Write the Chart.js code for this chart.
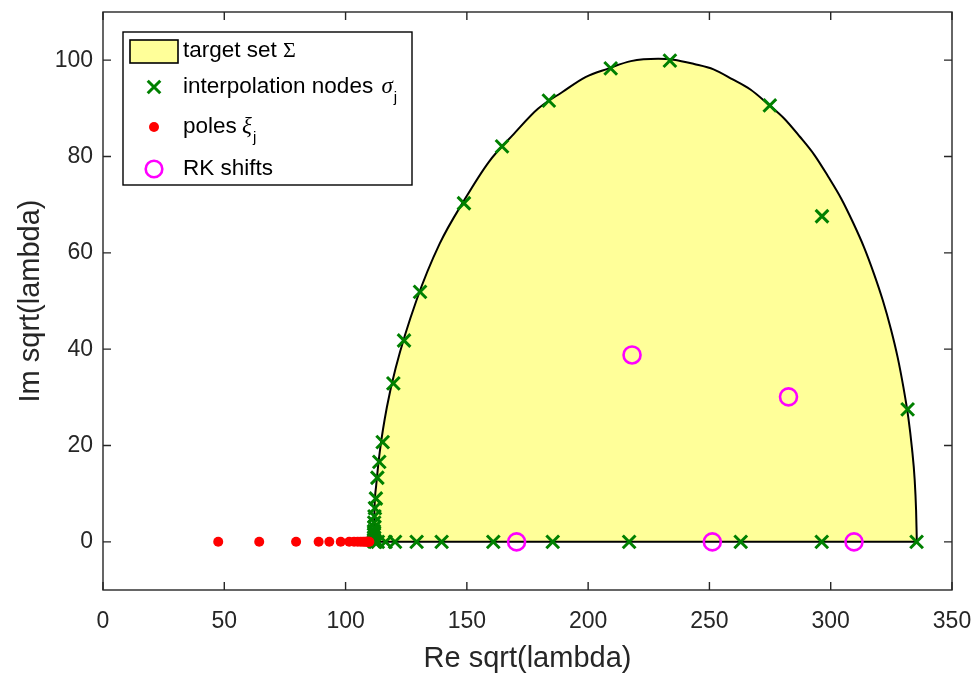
<!DOCTYPE html>
<html>
<head>
<meta charset="utf-8">
<script src="https://cdn.jsdelivr.net/npm/chart.js@4.4.1/dist/chart.umd.min.js"></script>
<style>
html,body{margin:0;padding:0;background:#fff;}
#wrap{width:978px;height:673px;position:relative;}
</style>
</head>
<body>
<div id="wrap"><canvas id="c" width="978" height="673"></canvas></div>
<script>
// ---- data ----
const xTicks = [0, 50, 100, 150, 200, 250, 300, 350];
const yTicks = [0, 20, 40, 60, 80, 100];

// upper boundary of the target set (Re, Im of sqrt(lambda))
const boundaryRe = [111.7, 111.8, 112.0, 112.6, 114.2, 117.0, 120.6, 129.2, 138.8, 149.0, 159.1, 169.4, 179.3, 189.4, 198.9, 208.5, 217.6, 228.9, 235.2, 243.7, 251.7, 259.6, 266.9, 274.1, 280.8, 287.3, 293.3, 299.0, 304.3, 309.2, 313.7, 317.8, 321.5, 324.8, 327.6, 330.0, 332.0, 333.5, 334.6, 335.2, 335.5];
const boundaryIm = [0.0, 3.9, 7.9, 11.6, 19.1, 27.9, 36.0, 50.1, 61.9, 71.0, 78.9, 84.7, 89.9, 93.4, 96.5, 98.3, 99.8, 100.3, 100.1, 99.2, 98.1, 96.0, 93.9, 90.9, 87.9, 84.1, 80.3, 75.8, 71.3, 66.3, 61.2, 55.7, 50.1, 44.2, 38.3, 32.0, 25.8, 19.4, 13.0, 6.5, 0.0];

// interpolation nodes sigma_j
const nodesRe = [233.7, 209.3, 183.8, 164.5, 148.8, 130.7, 124.1, 119.7, 115.3, 113.9, 113.1, 112.5, 112.1, 111.9, 111.8, 111.8, 111.7, 111.7, 111.7, 111.7, 111.7, 274.9, 296.4, 331.7,
                 112.3, 113.3, 116.5, 120.4, 129.3, 139.6, 160.9, 185.4, 216.9, 262.9, 296.3, 335.4];
const nodesIm = [99.9, 98.3, 91.6, 82.1, 70.3, 51.9, 41.8, 32.9, 20.7, 16.6, 13.3, 9.0, 7.0, 5.3, 4.0, 3.0, 2.2, 1.5, 0.9, 0.4, 0.1, 90.6, 67.6, 27.5,
                 0, 0, 0, 0, 0, 0, 0, 0, 0, 0, 0, 0];

// poles xi_j
const polesRe = [47.5, 64.4, 79.6, 88.9, 93.3, 98.0, 101.5, 103.5, 105.0, 106.2, 107.2, 108.0, 108.6, 109.1, 109.5, 109.8];
const polesIm = [0, 0, 0, 0, 0, 0, 0, 0, 0, 0, 0, 0, 0, 0, 0, 0];

// RK shifts
const rkRe = [218.1, 282.6, 170.5, 251.2, 309.6];
const rkIm = [38.8, 30.1, 0, 0, 0];

const zip = (a, b) => a.map((v, i) => ({x: v, y: b[i]}));

const YELLOW = 'rgb(255,255,153)';
const GREEN = 'rgb(0,128,0)';
const RED = 'rgb(255,0,0)';
const MAGENTA = 'rgb(255,0,255)';
const AXIS = '#262626';
const SANS = '"Liberation Sans", Arial, Helvetica, sans-serif';
const SERIF = '"Liberation Serif", "DejaVu Serif", "Times New Roman", serif';

const boxPlugin = {
  id: 'boxPlugin',
  afterDatasetsDraw(chart) {
    const ctx = chart.ctx, a = chart.chartArea;
    const xs = chart.scales.x, ys = chart.scales.y;
    ctx.save();
    ctx.strokeStyle = AXIS;
    ctx.lineWidth = 1.4;
    ctx.strokeRect(a.left, a.top, a.right - a.left, a.bottom - a.top);
    const tl = 8;
    ctx.beginPath();
    xTicks.forEach(v => {
      const px = xs.getPixelForValue(v);
      ctx.moveTo(px, a.bottom); ctx.lineTo(px, a.bottom - tl);
      ctx.moveTo(px, a.top); ctx.lineTo(px, a.top + tl);
    });
    yTicks.forEach(v => {
      const py = ys.getPixelForValue(v);
      ctx.moveTo(a.left, py); ctx.lineTo(a.left + tl, py);
      ctx.moveTo(a.right, py); ctx.lineTo(a.right - tl, py);
    });
    ctx.stroke();
    ctx.restore();
  },
  afterDraw(chart) {
    const ctx = chart.ctx, a = chart.chartArea;
    const L = a.left + 20, T = a.top + 20, W = 289, H = 153;
    ctx.save();
    ctx.fillStyle = '#fff';
    ctx.fillRect(L, T, W, H);
    ctx.strokeStyle = '#000';
    ctx.lineWidth = 1.4;
    ctx.strokeRect(L, T, W, H);
    const mx = L + 31, tx = L + 60;
    const rows = [T + 19, T + 55, T + 95, T + 137];
    ctx.textBaseline = 'middle';
    ctx.textAlign = 'left';
    const mainFont = '22.5px ' + SANS;
    // row 1: target set
    ctx.fillStyle = YELLOW;
    ctx.fillRect(L + 7, rows[0] - 11, 48, 23);
    ctx.strokeStyle = '#000'; ctx.lineWidth = 1.6;
    ctx.strokeRect(L + 7, rows[0] - 11, 48, 23);
    ctx.fillStyle = '#000';
    ctx.font = mainFont;
    let t = 'target set ';
    ctx.fillText(t, tx, rows[0]);
    let w = ctx.measureText(t).width;
    ctx.font = '22px ' + SERIF;
    ctx.fillText('\u03A3', tx + w, rows[0]);
    // row 2: nodes
    ctx.strokeStyle = GREEN; ctx.lineWidth = 3;
    const r = 6.3;
    ctx.beginPath();
    ctx.moveTo(mx - r, rows[1] - r); ctx.lineTo(mx + r, rows[1] + r);
    ctx.moveTo(mx - r, rows[1] + r); ctx.lineTo(mx + r, rows[1] - r);
    ctx.stroke();
    ctx.fillStyle = '#000';
    ctx.font = mainFont;
    t = 'interpolation nodes ';
    ctx.fillText(t, tx, rows[1]);
    w = ctx.measureText(t).width;
    ctx.font = 'italic 23px ' + SERIF;
    ctx.fillText('\u03C3', tx + w + 2, rows[1]);
    let w2 = ctx.measureText('\u03C3').width;
    ctx.font = '15px ' + SANS;
    ctx.fillText('j', tx + w + w2 + 3, rows[1] + 11);
    // row 3: poles
    ctx.fillStyle = RED;
    ctx.beginPath(); ctx.arc(mx, rows[2], 5, 0, Math.PI * 2); ctx.fill();
    ctx.fillStyle = '#000';
    ctx.font = mainFont;
    t = 'poles ';
    ctx.fillText(t, tx, rows[2]);
    w = ctx.measureText(t).width;
    ctx.font = 'italic 23px ' + SERIF;
    ctx.fillText('\u03BE', tx + w - 1, rows[2]);
    w2 = ctx.measureText('\u03BE').width;
    ctx.font = '15px ' + SANS;
    ctx.fillText('j', tx + w + w2, rows[2] + 11);
    // row 4: RK shifts
    ctx.strokeStyle = MAGENTA; ctx.lineWidth = 2.6;
    ctx.beginPath(); ctx.arc(mx, rows[3], 8.3, 0, Math.PI * 2); ctx.stroke();
    ctx.fillStyle = '#000';
    ctx.font = mainFont;
    ctx.fillText('RK shifts', tx, rows[3]);
    ctx.restore();
  }
};

new Chart(document.getElementById('c'), {
  type: 'scatter',
  data: {
    datasets: [
      {
        label: 'target set',
        data: zip(boundaryRe, boundaryIm),
        showLine: true,
        fill: 'origin',
        backgroundColor: YELLOW,
        borderColor: '#000',
        borderWidth: 2,
        pointRadius: 0,
        cubicInterpolationMode: 'monotone',
        order: 5
      },
      {
        label: 'target set base',
        data: [{x: boundaryRe[0], y: 0}, {x: boundaryRe[boundaryRe.length - 1], y: 0}],
        showLine: true,
        fill: false,
        borderColor: '#000',
        borderWidth: 2,
        pointRadius: 0,
        order: 4
      },
      {
        label: 'interpolation nodes',
        data: zip(nodesRe, nodesIm),
        pointStyle: 'crossRot',
        pointRadius: 9,
        borderColor: GREEN,
        backgroundColor: GREEN,
        pointBorderWidth: 3,
        order: 3
      },
      {
        label: 'poles',
        data: zip(polesRe, polesIm),
        pointStyle: 'circle',
        pointRadius: 5,
        borderWidth: 0,
        pointBorderWidth: 0,
        backgroundColor: RED,
        borderColor: RED,
        order: 2
      },
      {
        label: 'RK shifts',
        data: zip(rkRe, rkIm),
        pointStyle: 'circle',
        pointRadius: 8.5,
        pointBorderWidth: 2.6,
        borderColor: MAGENTA,
        backgroundColor: 'rgba(0,0,0,0)',
        order: 1
      }
    ]
  },
  options: {
    responsive: false,
    animation: false,
    events: [],
    layout: { padding: { top: 10, right: 26, left: 0, bottom: 0 } },
    plugins: { legend: { display: false }, tooltip: { enabled: false } },
    scales: {
      x: {
        type: 'linear',
        min: 0, max: 350,
        afterBuildTicks: s => { s.ticks = xTicks.map(v => ({value: v})); },
        afterFit: s => { s.height = 83; s.paddingLeft = 0; s.paddingRight = 0; },
        grid: { display: false },
        border: { display: false },
        ticks: { color: AXIS, font: { family: SANS, size: 23 }, padding: 10, maxRotation: 0, autoSkip: false },
        title: { display: true, text: 'Re sqrt(lambda)', color: AXIS, font: { family: SANS, size: 29 }, padding: { top: 0, bottom: -3 } }
      },
      y: {
        type: 'linear',
        min: -10, max: 110,
        afterBuildTicks: s => { s.ticks = yTicks.map(v => ({value: v})); },
        afterFit: s => { s.width = 103; s.paddingTop = 0; s.paddingBottom = 0; },
        grid: { display: false },
        border: { display: false },
        ticks: { color: AXIS, font: { family: SANS, size: 23 }, padding: 2, autoSkip: false },
        title: { display: true, text: 'Im sqrt(lambda)', color: AXIS, font: { family: SANS, size: 29 }, padding: { top: 14, bottom: 0 } }
      }
    }
  },
  plugins: [boxPlugin]
});
</script>
</body>
</html>
